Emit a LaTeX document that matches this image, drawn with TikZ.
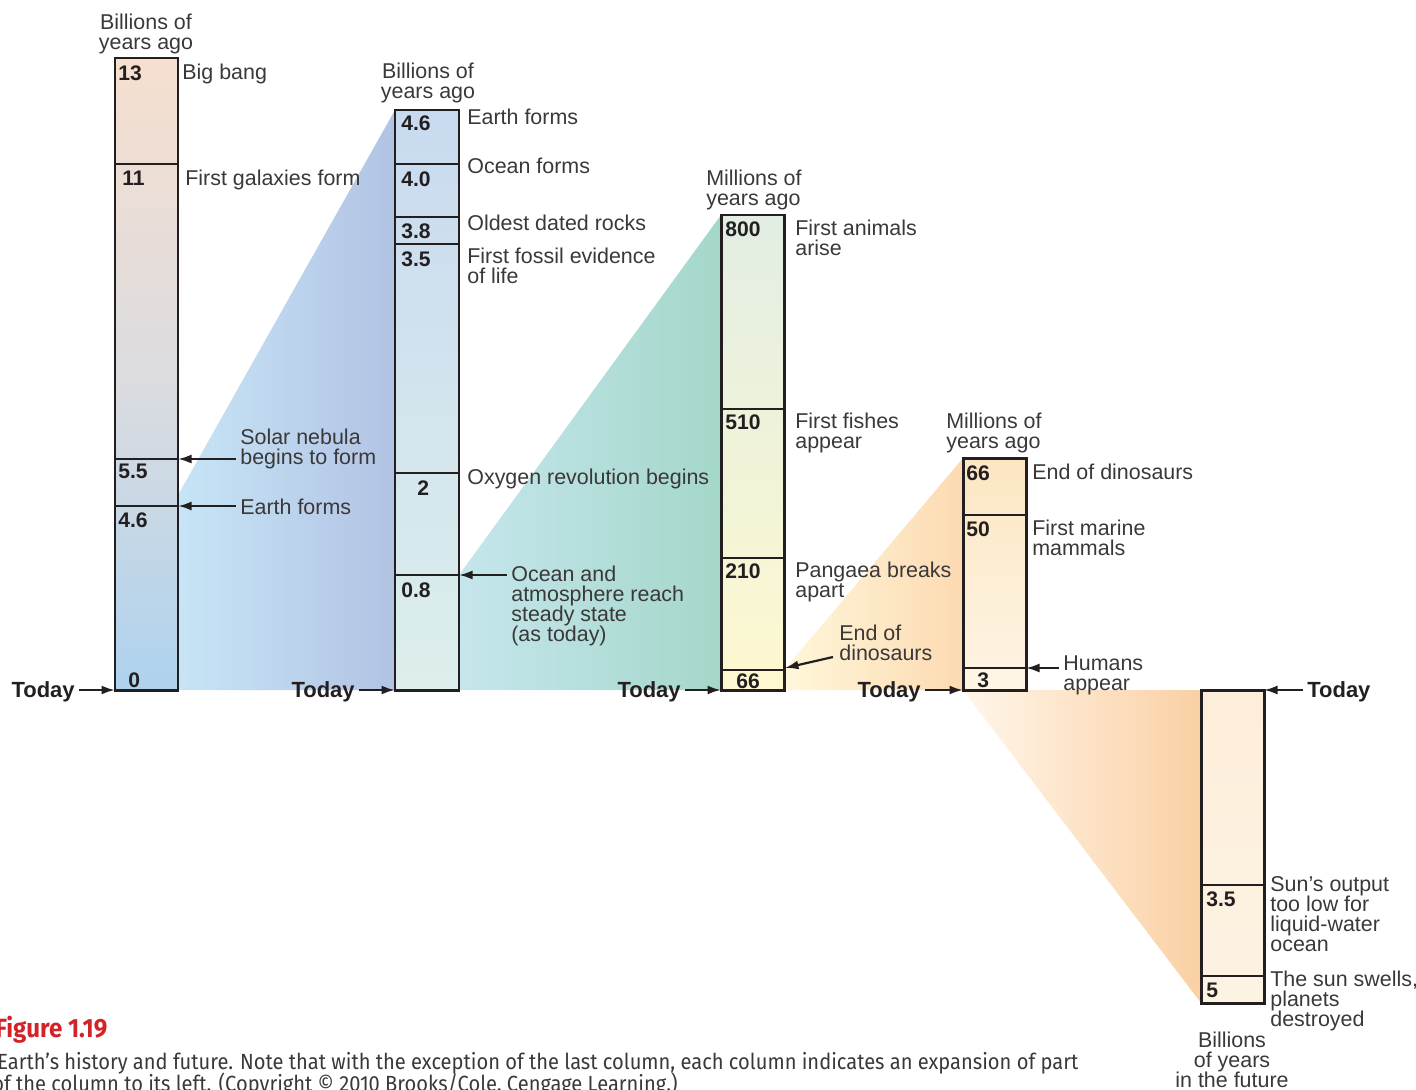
\documentclass[tikz,border=0pt]{standalone}
\usepackage{fontspec}
\setmainfont{Liberation Sans}
\newfontfamily\capfont[FakeStretch=0.915]{Fira Sans}
\usetikzlibrary{arrows.meta,positioning,calc}
\definecolor{inkline}{HTML}{231F20}
\definecolor{inktext}{HTML}{3A3838}
\definecolor{figred}{HTML}{D2232A}
% column tints
\definecolor{peachtop}{HTML}{F6DFCF}
\definecolor{greymid}{HTML}{DCDCDF}
\definecolor{bluebot}{HTML}{AED2EE}
\definecolor{skytop}{HTML}{C8DAEF}
\definecolor{mintbot}{HTML}{DDEEEC}
\definecolor{sagetop}{HTML}{E2EEE3}
\definecolor{creambot}{HTML}{FEF8D0}
\definecolor{sandtop}{HTML}{FCE6C2}
\definecolor{sandbot}{HTML}{FEF5E5}
\definecolor{shelltop}{HTML}{FDEEDA}
\definecolor{shellbot}{HTML}{FDF3E3}
% wedge tints
\definecolor{wedgeAl}{HTML}{C7E5F6}
\definecolor{wedgeAr}{HTML}{B2C3E4}
\definecolor{wedgeBl}{HTML}{C5E6EC}
\definecolor{wedgeBr}{HTML}{A4D7CA}
\definecolor{wedgeCl}{HTML}{FFF7DA}
\definecolor{wedgeCr}{HTML}{FCDAB2}
\definecolor{wedgeDl}{HTML}{FFF6EA}
\definecolor{wedgeDr}{HTML}{FAD0A4}
\tikzset{
  colbox/.style={draw=inkline, line width=1.7pt},
  divline/.style={draw=inkline, line width=1.5pt},
  evtlabel/.style={
    anchor=north west, inner sep=0pt, align=left, text=inktext,
    font=\fontsize{12.2}{11.4}\selectfont
  },
  hdrlabel/.style={evtlabel, anchor=north, align=center},
  agenum/.style={anchor=north west, inner sep=0pt, text=inkline, font=\fontsize{12}{12}\selectfont\bfseries},
  todaylabel/.style={anchor=base east, inner sep=0pt, text=inkline, font=\fontsize{12.5}{12.5}\selectfont\bfseries},
  ptarrow/.style={-{Latex[length=0.27cm,width=0.18cm]}, draw=inkline, line width=1.25pt, shorten <=2.5pt}
}

\begin{document}
\begin{tikzpicture}[x=0.02cm, y=-0.02cm]
\useasboundingbox (0,0) rectangle (1416,1089);

% expansion wedges
\shade[left color=wedgeAl, right color=wedgeAr] (178,495) -- (395,110) -- (395,690) -- (178,690) -- cycle;
\shade[left color=wedgeBl, right color=wedgeBr] (459,575) -- (721,215) -- (721,690) -- (459,690) -- cycle;
\shade[left color=wedgeCl, right color=wedgeCr] (784,670) -- (963,458) -- (963,690) -- (784,690) -- cycle;
\shade[left color=wedgeDl, right color=wedgeDr] (963,690) -- (1201,690) -- (1201,1003) -- cycle;

% columns
\shadedraw[colbox, top color=peachtop, bottom color=bluebot, middle color=greymid] (115,58) rectangle (178,690);
\foreach \y in {164,459,506} \draw[divline] (115,\y) -- (178,\y);
\shadedraw[colbox, top color=skytop, bottom color=mintbot] (395,110) rectangle (459,690);
\foreach \y in {164,217,244,473,575} \draw[divline] (395,\y) -- (459,\y);
\shadedraw[colbox, top color=sagetop, bottom color=creambot] (721,215) rectangle (784,690);
\foreach \y in {409,558,670} \draw[divline] (721,\y) -- (784,\y);
\shadedraw[colbox, top color=sandtop, bottom color=sandbot] (963,458) rectangle (1026,690);
\foreach \y in {515,668} \draw[divline] (963,\y) -- (1026,\y);
\shadedraw[colbox, top color=shelltop, bottom color=shellbot] (1201,690) rectangle (1264,1003);
\foreach \y in {885,976} \draw[divline] (1201,\y) -- (1264,\y);

% column ends and arrow targets
\coordinate (c1today) at (115,690);
\coordinate (c2today) at (395,690);
\coordinate (c3today) at (721,690);
\coordinate (c4today) at (963,690);
\coordinate (c5today) at (1264,690);
\coordinate (nebpt) at (178,459);
\coordinate (earthpt) at (178,506);
\coordinate (steadypt) at (459,575);
\coordinate (dinopt) at (785,668);
\coordinate (dinotail) at (833,657);
\coordinate (humanpt) at (1026,668);

% headers
\node[hdrlabel] (hdr1) at (146,14) {Billions of\\years ago};
\node[hdrlabel] (hdr2) at (428,63) {Billions of\\years ago};
\node[evtlabel] (hdr3) at (706,170) {Millions of\\years ago};
\node[evtlabel] (hdr4) at (946,413) {Millions of\\years ago};
\node[hdrlabel] (hdr5) at (1232,1032) {Billions\\of years\\in the future};

% ages
\node[agenum] (n13) at (118,65) {13};
\node[agenum] (n11) at (122,171) {11};
\node[agenum] (n55) at (118,464) {5.5};
\node[agenum] (n46a) at (118,512) {4.6};
\node[agenum] (n0) at (128,672) {0};
\node[agenum] (n46b) at (401,115) {4.6};
\node[agenum] (n40) at (401,171) {4.0};
\node[agenum] (n38) at (401,223) {3.8};
\node[agenum] (n35a) at (401,251) {3.5};
\node[agenum] (n2) at (417,480) {2};
\node[agenum] (n08) at (401,582) {0.8};
\node[agenum] (n800) at (725,221) {800};
\node[agenum] (n510) at (725,414) {510};
\node[agenum] (n210) at (725,563) {210};
\node[agenum] (n66a) at (736,673) {66};
\node[agenum] (n66b) at (966,465) {66};
\node[agenum] (n50) at (966,521) {50};
\node[agenum] (n3) at (977,672) {3};
\node[agenum] (n35b) at (1206,891) {3.5};
\node[agenum] (n5) at (1206,983) {5};

% events
\node[evtlabel] (bigbang) at (182,64) {Big bang};
\node[evtlabel] (galaxies) at (185,170) {First galaxies form};
\node[evtlabel] (nebula) at (240,429) {Solar nebula\\begins to form};
\node[evtlabel] (earthA) at (240,499) {Earth forms};
\node[evtlabel] (earthB) at (467,109) {Earth forms};
\node[evtlabel] (ocean) at (467,158) {Ocean forms};
\node[evtlabel] (rocks) at (467,215) {Oldest dated rocks};
\node[evtlabel] (fossil) at (467,248) {First fossil evidence\\of life};
\node[evtlabel] (oxygen) at (467,469) {Oxygen revolution begins};
\node[evtlabel] (steady) at (511,566) {Ocean and\\atmosphere reach\\steady state\\(as today)};
\node[evtlabel] (animals) at (795,220) {First animals\\arise};
\node[evtlabel] (fishes) at (795,413) {First fishes\\appear};
\node[evtlabel] (pangaea) at (795,562) {Pangaea breaks\\apart};
\node[evtlabel] (dinoA) at (839,625) {End of\\dinosaurs};
\node[evtlabel] (dinoB) at (1032,464) {End of dinosaurs};
\node[evtlabel] (marine) at (1032,520) {First marine\\mammals};
\node[evtlabel] (humans) at (1063,655) {Humans\\appear};
\node[evtlabel] (sunlow) at (1270,876) {Sun's output\\too low for\\liquid-water\\ocean};
\node[evtlabel] (swells) at (1270,971) {The sun swells,\\planets\\destroyed};

\draw[ptarrow] (nebula.west |- nebpt) -- (nebpt);
\draw[ptarrow] (earthA.west |- earthpt) -- (earthpt);
\draw[ptarrow] (steady.west |- steadypt) -- (steadypt);
\draw[ptarrow, shorten <=0pt] (dinotail) -- (dinopt);
\draw[ptarrow] (humans.west |- humanpt) -- (humanpt);

% today markers
\node[todaylabel] (today1) at (75,697) {Today};
\node[todaylabel] (today2) at (355,697) {Today};
\node[todaylabel] (today3) at (681,697) {Today};
\node[todaylabel] (today4) at (921,697) {Today};
\node[todaylabel, anchor=base west] (today5) at (1307,697) {Today};
\draw[ptarrow] (today1.east |- c1today) -- (c1today);
\draw[ptarrow] (today2.east |- c2today) -- (c2today);
\draw[ptarrow] (today3.east |- c3today) -- (c3today);
\draw[ptarrow] (today4.east |- c4today) -- (c4today);
\draw[ptarrow] (today5.west |- c5today) -- (c5today);

% caption
\node[anchor=base west, inner sep=0pt, text=figred, font=\capfont\fontsize{15}{15}\selectfont\bfseries] (figlab) at (-5,1037) {Figure 1.19};
\node[anchor=base west, inner sep=0pt, text=inktext, font=\capfont\fontsize{12.5}{12.5}\selectfont] (capA) at (-3,1069) {Earth’s history and future. Note that with the exception of the last column, each column indicates an expansion of part};
\node[anchor=base west, inner sep=0pt, text=inktext, font=\capfont\fontsize{12.5}{12.5}\selectfont] (capB) at (-8,1091) {of the column to its left. (Copyright \textcopyright\ 2010 Brooks/Cole, Cengage Learning.)};
\end{tikzpicture}
\end{document}
